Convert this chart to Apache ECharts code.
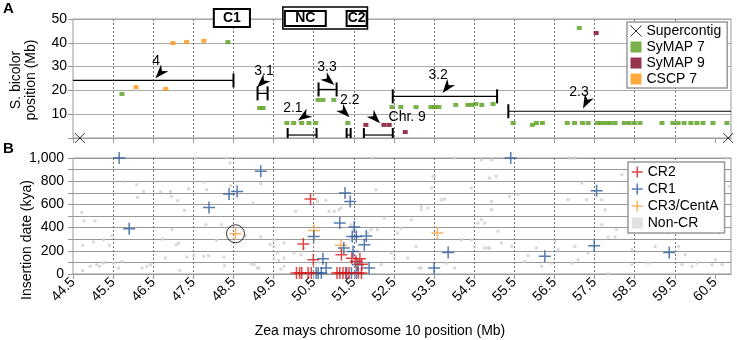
<!DOCTYPE html>
<html><head><meta charset="utf-8">
<script src="https://cdn.jsdelivr.net/npm/echarts@6/dist/echarts.min.js"></script>
<style>html,body{margin:0;padding:0;background:#fff}#c{width:737px;height:340px}</style>
</head><body><div id="c"></div>
<script>
const FONT = '"Liberation Sans", Arial, sans-serif';
// ---- shared x axis ticks (Zea mays chr 10, Mb)
const xTicks = [44.5,45.5,46.5,47.5,48.5,49.5,50.5,51.5,52.5,53.5,54.5,55.5,56.5,57.5,58.5,59.5,60.5];
const yTicksA = [10,20,30,40,50];
const yTicksB = [0,200,400,600,800,1000];

// ---- Panel A data: [Zea mays Mb, S. bicolor Mb]
const supercontig = [[44.67,0],[60.83,0]];
const symap7 = [[45.72,18.5],[48.36,40.3],[49.15,12.6],[49.24,12.6],[50.61,16.0],[50.73,16.0],[51.0,16.0],
  [49.83,6.3],[50.0,6.3],[50.2,6.3],[50.38,6.3],[50.55,6.3],[51.35,6.3],
  [52.45,13.0],[52.67,13.0],[53.05,13.0],[53.42,13.0],[53.52,13.0],[53.62,13.0],[54.04,13.9],[54.34,13.9],[54.44,13.9],[54.54,14.3],[54.69,13.9],[54.97,14.3],
  [55.47,6.3],[55.95,5.5],[56.05,6.3],[56.2,6.3],[56.82,6.3],[57.0,6.3],[57.2,6.3],[57.34,6.3],[57.57,6.3],[57.67,6.3],[57.79,6.3],[57.89,6.3],[58.01,6.3],
  [58.24,6.3],[58.36,6.3],[58.49,6.3],[58.63,6.3],[59.18,6.3],[59.45,6.3],[59.58,6.3],[59.73,6.3],[59.9,6.3],[60.05,6.3],[60.2,6.3],[60.45,6.3],[60.8,6.3],
  [57.12,46.2]];
const symap9 = [[51.8,5.5],[52.25,5.5],[52.38,5.5],[52.78,2.5],[57.54,44.1]];
const cscp7 = [[46.07,21.4],[46.81,20.6],[46.99,39.9],[47.33,40.3],[47.76,40.8]];
// synteny block bars: [start, end, S. bicolor Mb, left cap, right cap]
const blocks = [[44.5,48.5,24.2,0,1],[49.1,49.35,18.75,1,1],[50.62,51.07,20.4,1,1],[49.85,50.57,1.25,1,1],
  [51.32,51.42,1.25,1,1],[51.75,52.47,1.25,1,1],[52.47,55.07,17.5,1,1],[55.35,60.9,11.25,1,0]];
// arrow markers: [arrow x, arrow y, direction deg, label x, label y]
const arrowNames = ['4','3.1','3.3','2.1','2.2','Chr. 9','3.2','2.3'];
const arrows = [[46.67,27.3,228,46.57,32.1],[49.21,23.3,225,49.26,28.3],[50.88,24.2,320,50.83,29.6],
  [50.25,9.0,215,49.98,12.5],[51.27,10.8,315,51.4,15.8],[52.03,8.3,315,52.83,8.75],
  [53.82,21.25,232,53.6,26.25],[57.29,15,243,57.11,19.2]];
// region boxes above panel A: [start, end, kind]
const regionNames = ['', 'C1', 'NC', 'C2'];
const regions = [[49.73,51.84,0],[48.01,48.91,1],[49.78,50.8,2],[51.32,51.82,2]];

// ---- Panel B data: [Zea mays Mb, insertion date kya]
const cr2 = [[50.42,646],[50.24,259],[51.19,166],[50.49,123],[51.45,136],[51.55,110],[51.7,84],[51.65,132],
  [50.07,8],[50.15,8],[50.2,8],[50.36,8],[50.44,8],[51.08,8],[51.15,8],[51.23,8],[51.3,8],[51.38,8],[51.61,8],[51.69,8]];
const cr1 = [[45.65,1000],[45.9,390],[47.89,574],[48.39,690],[48.59,712],[49.18,885],[51.28,698],[51.41,626],[51.15,440],
  [51.51,405],[50.5,324],[51.46,324],[51.56,324],[51.81,328],[51.76,253],[51.25,224],[51.48,195],[50.73,132],[50.81,52],
  [51.88,52],[51.6,80],[50.56,8],[50.61,8],[50.69,8],[51.32,8],[51.44,8],[51.56,8],
  [55.41,1000],[57.55,718],[57.49,244],[56.26,152],[59.36,186],[53.85,186],[53.5,52]];
const cr3 = [[48.55,347],[50.51,376],[51.18,247],[53.58,353]];
const highlighted = [[48.55,347]];
const nonCR = [[44.72,531],[44.78,459],[45.05,459],[44.74,247],[45.01,276],[45.26,296],[45.41,247],[45.47,330],[44.74,31],[44.93,66],
 [45.09,80],[45.16,66],[45.24,94],[45.3,100],[45.51,94],[45.63,51],[45.72,109],[45.76,799],[46.09,770],[46.11,661],[46.26,712],
 [46.22,51],[46.34,66],[46.43,80],[46.68,707],[46.93,712],[46.95,669],[47.11,632],[47.28,549],[47.38,735],[46.97,382],[46.73,301],
 [47.08,253],[47.13,267],[46.8,138],[47.16,31],[47.34,146],[47.51,158],[47.55,1000],[47.76,793],[47.83,727],[47.81,425],[48.08,290],
 [47.88,158],[47.76,152],[48.26,146],[48.28,71],[48.33,1000],[48.41,957],[48.2,425],[48.8,330],[48.94,86],[48.98,612],[49.13,51],
 [49.18,319],[49.18,778],[49.41,253],[49.51,138],[49.63,117],[49.68,43],[48.43,761],
 [49.51,296],[49.51,238],[49.59,181],[49.76,138],[50.01,181],[50.18,166],[49.76,267],[50.05,540],[50.26,224],[50.59,626],[50.8,635],
 [50.88,540],[51.01,540],[51.13,554],[51.18,569],[51.97,1000],[52.05,727],[51.43,425],[51.51,382],[51.84,353],[51.93,382],[52.09,382],
 [52.26,482],[52.43,181],[52.51,138],[52.18,80],[52.59,353],[52.68,396],[52.93,468],[53.18,583],[53.34,569],[53.51,842],[53.68,641],
 [53.76,646],[53.18,51],[54.01,51],[54.18,296],[54.43,296],[54.68,468],[54.59,439],[54.51,238],[54.84,224],[54.68,985],[54.93,985],
 [51.43,296],[51.59,324],[49.76,66],[49.01,80],[49.09,51],
 [53.47,842],[53.44,741],[53.18,554],[53.05,238],[52.84,138],[53.13,51],[53.8,94],[54.43,741],[54.01,1000],[54.88,827],[55.05,842],
 [54.93,626],[54.93,554],[55.38,669],[55.59,684],[54.76,439],[55.09,368],[54.76,224],[54.88,224],[55.18,267],[55.84,158],[56.05,224],
 [56.51,281],[56.59,209],[56.88,1000],[57.01,1000],[56.84,641],[57.18,784],[57.3,641],[57.68,641],[57.76,554],[57.68,425],[57.84,319],
 [58.01,319],[58.05,382],[58.18,856],[58.43,209],[59.01,238],[59.34,353],[59.59,238],[59.76,166],[60.05,94],[60.68,80],[60.43,80],
 [59.68,80],[58.84,94],[58.43,80],[57.84,0],[57.09,123],[57.34,181],[56.93,94],[57.01,238],[56.43,94],[56.18,66],[55.76,109],
 [55.43,238],[60.51,784],[60.85,755],[60.59,353],[60.8,1000],[60.01,842],[59.84,727],[60.18,583],[60.51,123],[59.93,66]];

const C = {sy7:'#579d1c', sy9:'#7e0021', cscp:'#ff950e', cr2:'#d7191c', cr1:'#2c5b9c', cr3:'#f5a23c', non:'#cfcfcf'};
const XPATH = 'path://M0,0L10,10M10,0L0,10';
const PLUS = 'path://M5,0L5,10M0,5L10,5';

function renderBlocks(params, api){
  const b = blocks[params.dataIndex];
  const p0 = api.coord([b[0], b[2]]), p1 = api.coord([b[1], b[2]]);
  const ch = [{type:'line', shape:{x1:p0[0],y1:p0[1],x2:p1[0],y2:p1[1]}, style:{stroke:'#000', lineWidth:1.2}}];
  if (b[3]) ch.push({type:'line', shape:{x1:p0[0],y1:p0[1]-7,x2:p0[0],y2:p0[1]+7}, style:{stroke:'#000', lineWidth:2}});
  if (b[4]) ch.push({type:'line', shape:{x1:p1[0],y1:p1[1]-7,x2:p1[0],y2:p1[1]+7}, style:{stroke:'#000', lineWidth:2}});
  return {type:'group', children:ch};
}
function renderArrows(params, api){
  const i = params.dataIndex, a = arrows[i];
  const c = api.coord([a[0], a[1]]);
  const ang = a[2]*Math.PI/180, dx = Math.cos(ang), dy = -Math.sin(ang), nx = -dy, ny = dx;
  const L = 14, W = 10;
  const tip = [c[0]+dx*L/2, c[1]+dy*L/2];
  const b1 = [c[0]-dx*L/2+nx*W/2, c[1]-dy*L/2+ny*W/2];
  const b2 = [c[0]-dx*L/2-nx*W/2, c[1]-dy*L/2-ny*W/2];
  const nt = [c[0]-dx*L/5, c[1]-dy*L/5];
  const lp = api.coord([a[3], a[4]]);
  return {type:'group', children:[
    {type:'polygon', shape:{points:[tip,b1,nt,b2]}, style:{fill:'#000'}},
    {type:'text', x:lp[0], y:lp[1], style:{text:arrowNames[i], font:'14px '+FONT, fill:'#000', align:'center', verticalAlign:'middle'}}
  ]};
}
function renderRegions(params, api){
  const r = regions[params.dataIndex];
  const p0 = api.coord([r[0], 50]), p1 = api.coord([r[1], 50]);
  const off = r[2]===0 ? [-12,10] : (r[2]===1 ? [-10,8] : [-8,7]);
  const lw = r[2]===0 ? 1.5 : 2;
  const ch = [{type:'rect', shape:{x:p0[0], y:p0[1]+off[0], width:p1[0]-p0[0], height:off[1]-off[0]},
    style:{fill:'#fff', stroke:'#000', lineWidth:lw}}];
  if (r[2]) ch.push({type:'text', x:(p0[0]+p1[0])/2, y:p0[1]+(off[0]+off[1])/2,
    style:{text:regionNames[params.dataIndex], font:'bold 14px '+FONT, fill:'#000', align:'center', verticalAlign:'middle'}});
  return {type:'group', children:ch};
}

const chart = echarts.init(document.getElementById('c'), null, {renderer:'canvas'});
const axisText = {fontSize:14, color:'#000', fontFamily:FONT};
const xBase = (gi) => ({gridIndex:gi, type:'value', min:44.5, max:60.9, interval:1,
  axisLine:{show:true, lineStyle:{color:'#999'}},
  axisTick:{show:true, length:5, customValues:xTicks, lineStyle:{color:'#999'}},
  splitLine:{show:true, showMinLine:false, showMaxLine:false, lineStyle:{type:[2,2], color:'#777', width:1}}});

chart.setOption({
  animation:false,
  textStyle:{fontFamily:FONT},
  grid:[
    {left:73, right:6, top:19, height:119, show:true, borderColor:'#999', borderWidth:1},
    {left:73, right:6, top:158, height:116, show:true, borderColor:'#999', borderWidth:1}
  ],
  xAxis:[
    Object.assign(xBase(0), {axisLabel:{show:false}}),
    Object.assign(xBase(1), {axisLabel:Object.assign({show:true, rotate:45, margin:6, customValues:xTicks, formatter:v=>v.toFixed(1)}, axisText)})
  ],
  yAxis:[
    {gridIndex:0, type:'value', min:0, max:50, interval:10, axisLine:{show:false},
     axisTick:{show:true, length:5, lineStyle:{color:'#999'}},
     axisLabel:Object.assign({margin:6, customValues:yTicksA}, axisText),
     splitLine:{lineStyle:{color:'#aaa', width:1}}},
    {gridIndex:1, type:'value', min:0, max:1000, interval:100, axisLine:{show:false},
     axisTick:{show:true, length:5, lineStyle:{color:'#999'}},
     axisLabel:Object.assign({margin:9, customValues:yTicksB, formatter:v=>v>=1000?'1,000':String(v)}, axisText),
     splitLine:{lineStyle:{color:'#999', width:1.2}}}
  ],
  legend:[
    {orient:'vertical', left:627, top:22, padding:[2,6,2,3], itemGap:2, itemWidth:11, itemHeight:11,
     borderColor:'#999', borderWidth:1.5, backgroundColor:'#fff', selectedMode:false,
     textStyle:{fontSize:14, color:'#000', fontFamily:FONT},
     data:[{name:'Supercontig', icon:XPATH, itemStyle:{color:'transparent', borderColor:'#000', borderWidth:1}},
           {name:'SyMAP 7', icon:'rect'},{name:'SyMAP 9', icon:'rect'},{name:'CSCP 7', icon:'rect'}]},
    {orient:'vertical', left:628, top:162, padding:[3,6,3,3], itemGap:3, itemWidth:11, itemHeight:11,
     borderColor:'#999', borderWidth:1.5, backgroundColor:'#fff', selectedMode:false,
     textStyle:{fontSize:14, color:'#000', fontFamily:FONT},
     data:[{name:'CR2', icon:PLUS, itemStyle:{color:'transparent', borderColor:C.cr2, borderWidth:1.5}},
           {name:'CR1', icon:PLUS, itemStyle:{color:'transparent', borderColor:C.cr1, borderWidth:1.5}},
           {name:'CR3/CentA', icon:PLUS, itemStyle:{color:'transparent', borderColor:C.cr3, borderWidth:1.5}},
           {name:'Non-CR', icon:'rect', itemStyle:{color:'#d9d9d9'}}]}
  ],
  series:[
    {type:'custom', name:'blocks', xAxisIndex:0, yAxisIndex:0, renderItem:renderBlocks, data:blocks, z:5, clip:true, encode:{x:[0,1], y:2}},
    {type:'custom', name:'arrows', xAxisIndex:0, yAxisIndex:0, renderItem:renderArrows, data:arrows, z:6, clip:false, encode:{x:[0,3], y:[1,4]}},
    {type:'scatter', name:'SyMAP 7', xAxisIndex:0, yAxisIndex:0, data:symap7, symbol:'rect', symbolSize:[5,4], itemStyle:{color:C.sy7}, z:4},
    {type:'scatter', name:'SyMAP 9', xAxisIndex:0, yAxisIndex:0, data:symap9, symbol:'rect', symbolSize:[5,4], itemStyle:{color:C.sy9}, z:4},
    {type:'scatter', name:'CSCP 7', xAxisIndex:0, yAxisIndex:0, data:cscp7, symbol:'rect', symbolSize:[5,4], itemStyle:{color:C.cscp}, z:4},
    {type:'scatter', name:'Supercontig', xAxisIndex:0, yAxisIndex:0, data:supercontig, symbol:XPATH, symbolSize:10, clip:false,
     itemStyle:{color:'transparent', borderColor:'#000', borderWidth:1}, z:7},
    {type:'custom', name:'regions', xAxisIndex:0, yAxisIndex:0, renderItem:renderRegions, data:regions, z:8, clip:false, encode:{x:[0,1]}},
    {type:'scatter', name:'Non-CR', xAxisIndex:1, yAxisIndex:1, data:nonCR, symbol:'rect', symbolSize:3, itemStyle:{color:C.non}, z:2},
    {type:'scatter', name:'CR3/CentA', xAxisIndex:1, yAxisIndex:1, data:cr3, symbol:PLUS, symbolSize:12, clip:false,
     itemStyle:{color:'transparent', borderColor:C.cr3, borderWidth:1.5}, z:4},
    {type:'scatter', name:'CR1', xAxisIndex:1, yAxisIndex:1, data:cr1, symbol:PLUS, symbolSize:12, clip:false,
     itemStyle:{color:'transparent', borderColor:C.cr1, borderWidth:1.5}, z:5},
    {type:'scatter', name:'CR2', xAxisIndex:1, yAxisIndex:1, data:cr2, symbol:PLUS, symbolSize:12, clip:false,
     itemStyle:{color:'transparent', borderColor:C.cr2, borderWidth:1.5}, z:6},
    {type:'scatter', name:'highlight', xAxisIndex:1, yAxisIndex:1, data:highlighted, symbol:'circle', symbolSize:18,
     itemStyle:{color:'transparent', borderColor:'#000', borderWidth:1}, z:7}
  ],
  graphic:[
    {type:'text', left:3, top:1, style:{text:'A', font:'bold 15px '+FONT, fill:'#000'}},
    {type:'text', left:3, top:141, style:{text:'B', font:'bold 15px '+FONT, fill:'#000'}},
    {type:'text', x:24, y:80, rotation:Math.PI/2, style:{text:'S. bicolor\nposition (Mb)', font:'14px '+FONT, fill:'#000', align:'center', verticalAlign:'middle', lineHeight:15}},
    {type:'text', x:27, y:240, rotation:Math.PI/2, style:{text:'Insertion date (kya)', font:'14px '+FONT, fill:'#000', align:'center', verticalAlign:'middle'}},
    {type:'text', x:380, y:331, style:{text:'Zea mays chromosome 10 position (Mb)', font:'14px '+FONT, fill:'#000', align:'center', verticalAlign:'middle'}}
  ]
});
</script></body></html>
